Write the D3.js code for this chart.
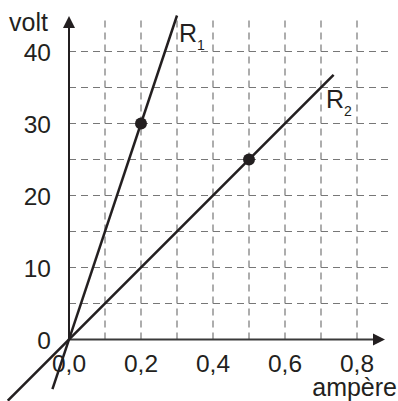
<!DOCTYPE html>
<html>
<head>
<meta charset="utf-8">
<script src="https://cdn.jsdelivr.net/npm/d3@7"></script>
<style>
  html, body { margin: 0; padding: 0; background: #fff; }
  text { font-family: "Liberation Sans", Arial, sans-serif; fill: #231f20; }
</style>
</head>
<body>
<div id="chart"></div>
<script>
const WIDTH = 398;
const HEIGHT = 401;

// axis ticks
const xTicks = [0, 0.2, 0.4, 0.6, 0.8];
const xTickLabels = ['0,0', '0,2', '0,4', '0,6', '0,8'];
const yTicks = [0, 10, 20, 30, 40];
const yTickLabels = ['0', '10', '20', '30', '40'];

// dashed grid
const gridX = [0.1, 0.2, 0.3, 0.4, 0.5, 0.6, 0.7, 0.8];
const gridY = [5, 10, 15, 20, 25, 30, 35, 40];

// resistor lines (V = R * I)
const lineNames = ['R1', 'R2'];
const lineResistance = [150, 50];
const lineStartI = [-0.046, -0.17];
const lineEndI = [0.3, 0.735];

// marked points
const pointI = [0.2, 0.5];
const pointV = [30, 25];

const x = d3.scaleLinear().domain([0, 0.8]).range([69, 357]);
const y = d3.scaleLinear().domain([0, 40]).range([339.5, 51.5]);

const svg = d3.select('#chart')
    .append('svg')
        .attr('width', WIDTH)
        .attr('height', HEIGHT);

const ink = '#231f20';

// grid
svg.append('g')
    .selectAll('line')
    .data(gridX)
    .enter()
    .append('line')
        .attr('x1', d => x(d)).attr('x2', d => x(d))
        .attr('y1', y(0)).attr('y2', y(45))
        .attr('stroke', '#777')
        .attr('stroke-width', 1.2)
        .attr('stroke-dasharray', '7,5');

svg.append('g')
    .selectAll('line')
    .data(gridY)
    .enter()
    .append('line')
        .attr('x1', x(0)).attr('x2', x(0.9))
        .attr('y1', d => y(d)).attr('y2', d => y(d))
        .attr('stroke', '#777')
        .attr('stroke-width', 1.2)
        .attr('stroke-dasharray', '7,5');

// axes
svg.append('line')
    .attr('x1', x(0)).attr('x2', 374)
    .attr('y1', y(0)).attr('y2', y(0))
    .attr('stroke', '#3a3a3a').attr('stroke-width', 2);
svg.append('path')
    .attr('d', `M385,${y(0)} L373,${y(0) - 6} L373,${y(0) + 6} Z`)
    .attr('fill', ink);

svg.append('line')
    .attr('x1', x(0)).attr('x2', x(0))
    .attr('y1', y(0)).attr('y2', 27)
    .attr('stroke', ink).attr('stroke-width', 2);
svg.append('path')
    .attr('d', `M${x(0)},16 L${x(0) - 6},28 L${x(0) + 6},28 Z`)
    .attr('fill', ink);

// tick labels
svg.append('g')
    .selectAll('text')
    .data(xTicks)
    .enter()
    .append('text')
        .attr('x', d => x(d))
        .attr('y', 372)
        .attr('text-anchor', 'middle')
        .attr('font-size', 24.5)
        .text((d, i) => xTickLabels[i]);

svg.append('g')
    .selectAll('text')
    .data(yTicks)
    .enter()
    .append('text')
        .attr('x', 51)
        .attr('y', d => y(d) + 9.5)
        .attr('text-anchor', 'end')
        .attr('font-size', 24.5)
        .text((d, i) => yTickLabels[i]);

svg.append('text')
    .attr('x', 9).attr('y', 31)
    .attr('font-size', 25)
    .text('volt');

svg.append('text')
    .attr('x', 397).attr('y', 396)
    .attr('text-anchor', 'end')
    .attr('font-size', 25)
    .text('ampère');

// resistor lines
svg.append('g')
    .selectAll('line')
    .data(lineNames)
    .enter()
    .append('line')
        .attr('x1', (d, i) => x(lineStartI[i]))
        .attr('y1', (d, i) => y(lineStartI[i] * lineResistance[i]))
        .attr('x2', (d, i) => x(lineEndI[i]))
        .attr('y2', (d, i) => y(lineEndI[i] * lineResistance[i]))
        .attr('stroke', ink)
        .attr('stroke-width', 2.5);

svg.append('g')
    .selectAll('circle')
    .data(pointI)
    .enter()
    .append('circle')
        .attr('cx', d => x(d))
        .attr('cy', (d, i) => y(pointV[i]))
        .attr('r', 6)
        .attr('fill', ink);

// line labels R1 / R2
const labelPos = [[179, 42], [326, 108]];
lineNames.forEach((name, i) => {
    const t = svg.append('text')
        .attr('x', labelPos[i][0])
        .attr('y', labelPos[i][1])
        .attr('font-size', 25);
    t.append('tspan').text(name[0]);
    t.append('tspan')
        .attr('font-size', 14)
        .attr('dy', 8)
        .text(name.slice(1));
});
</script>
</body>
</html>
